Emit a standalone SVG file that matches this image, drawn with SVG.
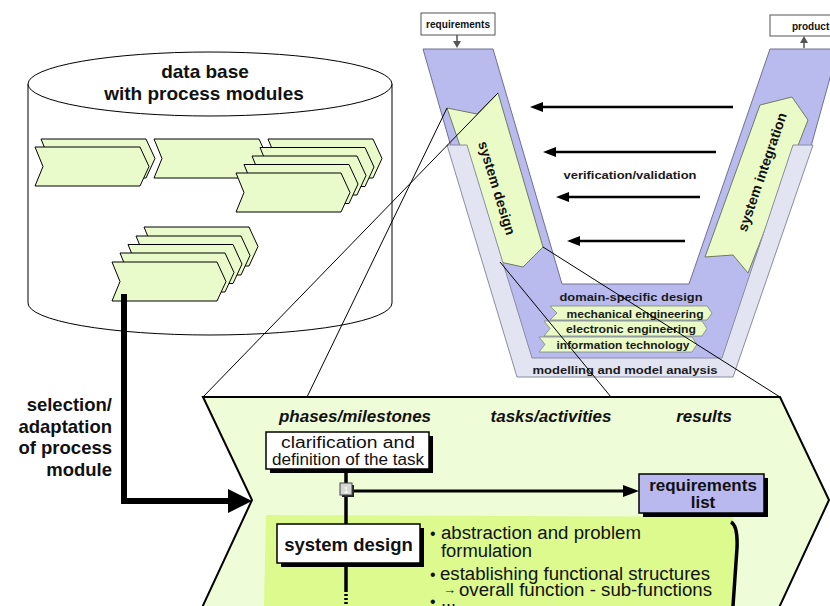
<svg xmlns="http://www.w3.org/2000/svg" xmlns:xlink="http://www.w3.org/1999/xlink" width="830" height="606" viewBox="0 0 830 606">
<style>
text{font-family:"Liberation Sans",Arial,Helvetica,sans-serif;fill:#111}
.b{font-weight:bold}
.bi{font-weight:bold;font-style:italic;font-size:17px}
.mod{fill:#eafbcb;stroke:#000;stroke-width:1}
.lav{fill:#b9bbee;stroke:#6f7090;stroke-width:1}
.gry{fill:#e2e4f2;stroke:#8a8ca0;stroke-width:1}
.grn{fill:#ebfbc8;stroke:#6f7a60;stroke-width:1}
.dom{fill:#ebfbc8;stroke:#7a8a70;stroke-width:0.8}
.vt{font-weight:bold;font-size:11.5px;fill:#1a1a1a}
.thin{stroke:#000;stroke-width:1;fill:none}
.arr{stroke:#000;stroke-width:2.5;fill:none}
.box{fill:#fff;stroke:#000;stroke-width:1.5}
.sh{fill:#000}
.rg{font-size:18px}
.bul{font-size:16px}
</style>
<defs>
<polygon id="pm" class="mod" points="0,0 105,0 114,19.5 105,39 0,39 8,19.5"/>
</defs>

<g id="database">
<path d="M28,84 L28,303 A182,32 0 0 0 392,303 L392,84" fill="#fff" stroke="#000" stroke-width="1"/>
<ellipse cx="210" cy="84" rx="182" ry="32" fill="#fff" stroke="#000" stroke-width="1"/>
<text class="b" x="205" y="78" font-size="19" text-anchor="middle">data base</text>
<text class="b" x="204" y="100" font-size="19" text-anchor="middle">with process modules</text>
</g>

<g id="modules">
<use xlink:href="#pm" x="41" y="139"/>
<use xlink:href="#pm" x="35" y="147"/>
<use xlink:href="#pm" x="154" y="139"/>
<use xlink:href="#pm" x="268" y="139"/>
<use xlink:href="#pm" x="260" y="147.5"/>
<use xlink:href="#pm" x="252" y="156"/>
<use xlink:href="#pm" x="244" y="164.5"/>
<use xlink:href="#pm" x="236" y="173"/>
<use xlink:href="#pm" x="144" y="227"/>
<use xlink:href="#pm" x="136" y="236"/>
<use xlink:href="#pm" x="128" y="244.5"/>
<use xlink:href="#pm" x="120" y="253"/>
<use xlink:href="#pm" x="112" y="262"/>
</g>

<g id="vmodel">
<polygon class="lav" points="423,49 493,49 562,284 689,284 770,49 838,49 810,150 722,360 532,360 452,150"/>
<polygon class="grn" points="447,108 477,114 498,93 543,247 523,267 500,262"/>
<polygon class="grn" points="760,105 792,97 808,120 748,273 733,255 705,257"/>
<polygon class="gry" points="447,145 467,145 532,358 722,358 793,145 813,145 733,377 517,377"/>
<text class="b" font-size="14" text-anchor="middle" dominant-baseline="central" transform="translate(497,188) rotate(73)">system design</text>
<text class="b" font-size="14" text-anchor="middle" dominant-baseline="central" transform="translate(762,172) rotate(-71)">system integration</text>
<text class="vt" x="630" y="179" text-anchor="middle" textLength="133" lengthAdjust="spacingAndGlyphs">verification/validation</text>
<text class="vt" x="631" y="301" font-size="12.5" text-anchor="middle" textLength="143" lengthAdjust="spacingAndGlyphs">domain-specific design</text>
<polygon class="dom" points="550,306 707,306 712,313 707,320 550,320 557,313"/>
<polygon class="dom" points="544,321 702,321 707,328.5 702,336 544,336 550,328.5"/>
<polygon class="dom" points="539,337 692,337 697,344.5 692,352 539,352 545,344.5"/>
<text class="vt" x="635" y="317.5" text-anchor="middle" textLength="137" lengthAdjust="spacingAndGlyphs">mechanical engineering</text>
<text class="vt" x="631" y="333" text-anchor="middle" textLength="130" lengthAdjust="spacingAndGlyphs">electronic engineering</text>
<text class="vt" x="623" y="348.5" text-anchor="middle" textLength="133" lengthAdjust="spacingAndGlyphs">information technology</text>
<text class="vt" x="625" y="373.5" font-size="12.5" text-anchor="middle" textLength="185" lengthAdjust="spacingAndGlyphs">modelling and model analysis</text>
</g>

<g id="requirements-in">
<rect x="421" y="13" width="74" height="22" fill="#fff" stroke="#555" stroke-width="1"/>
<text class="b" x="458" y="28" font-size="10" text-anchor="middle" textLength="64" lengthAdjust="spacingAndGlyphs">requirements</text>
</g>
<g id="product-out">
<rect x="770" y="15" width="70" height="21" fill="#fff" stroke="#555" stroke-width="1"/>
<text class="b" x="792" y="30" font-size="10">product</text>
</g>

<g id="panel">
<polygon points="203,397 780,397 829,500 777,612 200,612 252,500" fill="#eefcd7" stroke="#000" stroke-width="2"/>
<path d="M266,515 L733,517 Q738,540 733,606 L264,606 Z" fill="#dcfa8e"/>
<path d="M731,522 Q738,526 737,548 L733,606" fill="none" stroke="#000" stroke-width="3.5"/>
<text class="bi" x="355" y="422" text-anchor="middle">phases/milestones</text>
<text class="bi" x="551" y="422" text-anchor="middle">tasks/activities</text>
<text class="bi" x="704" y="422" text-anchor="middle">results</text>
</g>

<g id="clarification">
<rect class="sh" x="270" y="436" width="163" height="37"/>
<rect class="box" x="266" y="432" width="163" height="37"/>
<text x="348" y="448" font-size="16" text-anchor="middle" textLength="134" lengthAdjust="spacingAndGlyphs">clarification and</text>
<text x="348" y="465" font-size="16" text-anchor="middle" textLength="152" lengthAdjust="spacingAndGlyphs">definition of the task</text>
</g>

<g id="requirements-list">
<rect class="sh" x="643" y="478" width="125" height="39"/>
<rect x="639" y="474" width="125" height="39" fill="#b9b9f0" stroke="#000" stroke-width="1.5"/>
<text class="b" x="703" y="491" font-size="17" text-anchor="middle">requirements</text>
<text class="b" x="703" y="508" font-size="17" text-anchor="middle">list</text>
</g>

<g id="system-design">
<rect class="sh" x="281" y="528" width="143" height="39"/>
<rect class="box" x="277" y="524" width="143" height="39"/>
<text class="b" x="348.5" y="551" font-size="18.5" text-anchor="middle">system design</text>
</g>

<g id="tasks">
<text class="bul" x="430" y="539">•</text>
<text class="rg" x="441" y="539" textLength="200" lengthAdjust="spacingAndGlyphs">abstraction and problem</text>
<text class="rg" x="441" y="557" textLength="91" lengthAdjust="spacingAndGlyphs">formulation</text>
<text class="bul" x="430" y="580">•</text>
<text class="rg" x="440" y="580" textLength="270" lengthAdjust="spacingAndGlyphs">establishing functional structures</text>
<text x="443" y="594" font-size="13">→</text>
<text class="rg" x="459" y="596" textLength="253" lengthAdjust="spacingAndGlyphs">overall function - sub-functions</text>
<text class="bul" x="430" y="607">•</text>
<text class="rg" x="441" y="606">...</text>
</g>

<g id="connectors">
<line class="thin" x1="203" y1="397" x2="498" y2="93"/>
<line class="thin" x1="307" y1="397" x2="447" y2="108"/>
<line class="thin" x1="500" y1="262" x2="611" y2="397"/>
<line class="thin" x1="543" y1="247" x2="780" y2="397"/>
<line class="arr" x1="733" y1="107" x2="540" y2="107"/>
<polygon points="530,107 543,102 543,112"/>
<line class="arr" x1="716" y1="152" x2="553" y2="152"/>
<polygon points="543,152 556,147 556,157"/>
<line class="arr" x1="700" y1="197" x2="566" y2="197"/>
<polygon points="556,197 569,192 569,202"/>
<line class="arr" x1="685" y1="241" x2="577" y2="241"/>
<polygon points="567,241 580,236 580,246"/>
<line x1="457" y1="35" x2="457" y2="43" stroke="#555" stroke-width="1.5"/>
<polygon points="453,41 461,41 457,48" fill="#555"/>
<line x1="804" y1="48" x2="804" y2="41" stroke="#555" stroke-width="1.5"/>
<polygon points="800,43 808,43 804,36" fill="#555"/>
<path d="M124,294 V501 H232" fill="none" stroke="#000" stroke-width="6"/>
<polygon points="252,501 228,489 228,513"/>
<line x1="346" y1="469" x2="346" y2="524" stroke="#000" stroke-width="3.5"/>
<line x1="346" y1="563" x2="346" y2="590" stroke="#000" stroke-width="3.5"/>
<line x1="346" y1="590" x2="346" y2="606" stroke="#000" stroke-width="3.5" stroke-dasharray="2,2"/>
<line x1="352" y1="491" x2="626" y2="491" stroke="#000" stroke-width="3"/>
<polygon points="639,491 623,485 623,497"/>
<rect x="342" y="485" width="12" height="12" fill="#222"/>
<rect x="340" y="483" width="12" height="12" fill="#d6d6d6" stroke="#444" stroke-width="1"/>
<text x="346" y="493" font-size="9" text-anchor="middle" style="fill:#fff">1</text>
</g>

<g id="selection-label">
<text class="b" x="112" y="411" font-size="18.5" text-anchor="end">selection/</text>
<text class="b" x="112" y="433" font-size="18.5" text-anchor="end">adaptation</text>
<text class="b" x="112" y="454" font-size="18.5" text-anchor="end">of process</text>
<text class="b" x="112" y="476" font-size="18.5" text-anchor="end">module</text>
</g>
</svg>
